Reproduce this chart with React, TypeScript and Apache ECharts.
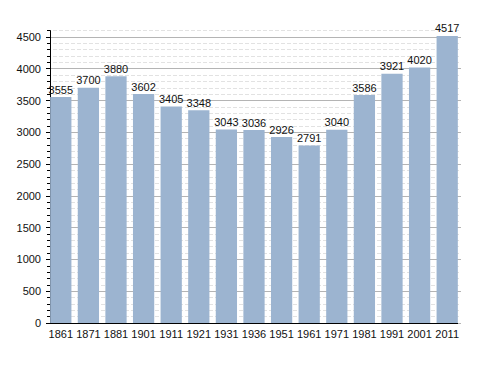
import React, { useEffect, useRef } from "react";
import * as echarts from "echarts";

const years = ["1861", "1871", "1881", "1901", "1911", "1921", "1931", "1936", "1951", "1961", "1971", "1981", "1991", "2001", "2011"];
const population = [3555, 3700, 3880, 3602, 3405, 3348, 3043, 3036, 2926, 2791, 3040, 3586, 3921, 4020, 4517];

export default function App() {
  const ref = useRef<HTMLDivElement>(null);
  useEffect(() => {
    const chart = echarts.init(ref.current!, null, { renderer: "svg" });
    const font = "'Liberation Sans', Arial, sans-serif";
    chart.setOption({
      animation: false,
      backgroundColor: "#ffffff",
      grid: { left: 47, right: 27, top: 30.6, bottom: 50, containLabel: false },
      xAxis: {
        type: "category",
        data: years,
        axisLine: { show: false },
        axisTick: { show: false },
        axisLabel: { color: "#111", fontSize: 11, fontFamily: font, margin: 5, interval: 0 },
        splitLine: { show: false },
      },
      yAxis: [
        {
          type: "value",
          min: 0,
          max: 4600,
          interval: 100,
          offset: -3,
          position: "left",
          z: 1,
          axisLine: { show: false },
          axisTick: { show: true, length: 3, lineStyle: { color: "#000" } },
          axisLabel: { show: false },
          splitLine: { show: true, lineStyle: { color: "#e2e2e2", type: [4, 2], width: 1 } },
        },
        {
          type: "value",
          min: 0,
          max: 4600,
          interval: 500,
          offset: -3,
          position: "left",
          z: 2,
          axisLine: { show: true, onZero: false, lineStyle: { color: "#000", width: 1 } },
          axisTick: { show: true, length: 4, lineStyle: { color: "#000" } },
          axisLabel: {
            color: "#111",
            fontSize: 11,
            fontFamily: font,
            margin: 9,
            showMaxLabel: false,
            formatter: (v: number) => (v % 500 === 0 ? String(v) : ""),
          },
          splitLine: { show: true, showMaxLine: false, lineStyle: { color: "#b4b4b4", width: 1 } },
        },
      ],
      graphic: [
        {
          type: "line",
          z: 100,
          shape: { x1: 50, y1: 323.5, x2: 458, y2: 323.5 },
          style: { stroke: "#000", lineWidth: 1 },
        },
      ],
      series: [
        {
          type: "bar",
          data: population,
          yAxisIndex: 1,
          barCategoryGap: "23%",
          itemStyle: { color: "#9cb4d0" },
          z: 3,
          label: {
            show: true,
            position: "top",
            distance: 2,
            color: "#111",
            fontSize: 11,
            fontFamily: font,
          },
        },
      ],
    });
    return () => chart.dispose();
  }, []);
  return <div ref={ref} style={{ width: 488, height: 373, position: "absolute", left: 0, top: 0 }} />;
}
